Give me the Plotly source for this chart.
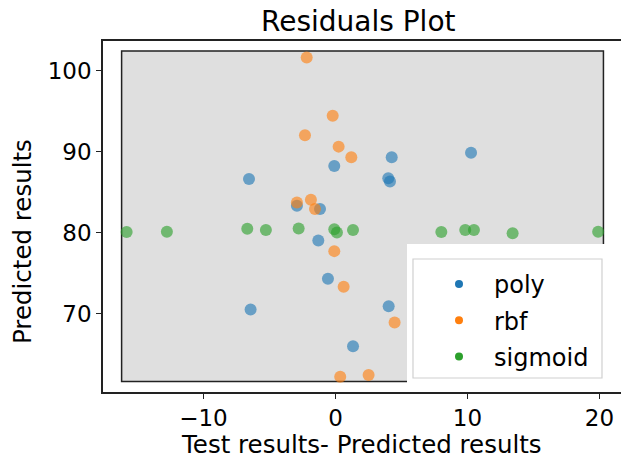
import plotly.graph_objects as go

# ---- data ----
poly_x = [-0.09, -6.55, -2.92, -1.17, -1.3, -0.57, -6.43, 4.03, 1.33, 4.26, 10.27, 4.0, 4.13]
poly_y = [88.2, 86.6, 83.3, 82.9, 79.0, 74.3, 70.5, 70.9, 65.95, 89.3, 89.85, 86.7, 86.3]

rbf_x = [-2.18, -0.21, -2.31, 0.24, 1.2, -2.92, -1.86, -1.55, -0.09, 0.62, 4.48, 0.36, 2.51]
rbf_y = [101.6, 94.4, 92.0, 90.6, 89.3, 83.7, 84.05, 82.9, 77.7, 73.3, 68.9, 62.2, 62.4]

sig_x = [-15.82, -12.77, -6.68, -5.27, -2.79, -0.09, 0.11, 1.33, 8.02, 9.83, 10.49, 13.42, 19.9]
sig_y = [80.06, 80.1, 80.47, 80.3, 80.5, 80.4, 80.0, 80.3, 80.06, 80.3, 80.3, 79.9, 80.1]

series_names = ["poly", "rbf", "sigmoid"]
series_colors = ["#1f77b4", "#ff7f0e", "#2ca02c"]

x_ticks = [-10, 0, 10, 20]
y_ticks = [70, 80, 90, 100]

# background rectangle (data coords)
rect_x = [-16.2, 20.3]
rect_y = [61.6, 102.4]

X_RANGE = [-17.61, 21.63]
Y_RANGE = [60.31, 103.64]

W, H = 621, 462
L, T, B = 103, 41, 392  # plot area pixels
R = 621


def px2paper(px, py):
    return (px - L) / (R - L), (B - py) / (B - T)


def px2data(px, py):
    fx, fy = px2paper(px, py)
    return (X_RANGE[0] + fx * (X_RANGE[1] - X_RANGE[0]),
            Y_RANGE[0] + fy * (Y_RANGE[1] - Y_RANGE[0]))


FONT = "DejaVu Sans, Liberation Sans, sans-serif"

fig = go.Figure()

series = [(poly_x, poly_y), (rbf_x, rbf_y), (sig_x, sig_y)]
for (xs, ys), name, col in zip(series, series_names, series_colors):
    fig.add_trace(go.Scatter(
        x=xs, y=ys, mode="markers", name=name, showlegend=False,
        marker=dict(color=col, size=12, opacity=0.62, line=dict(width=0)),
    ))
# legend-only entries (opaque symbols)
for i, (name, col) in enumerate(zip(series_names, series_colors)):
    fig.add_trace(go.Scatter(
        x=[None], y=[None], mode="markers", name=name, legendgroup=f"g{i}",
        marker=dict(color=col, size=8),
    ))

shapes = [
    dict(type="rect", xref="x", yref="y", x0=rect_x[0], x1=rect_x[1], y0=rect_y[0], y1=rect_y[1],
         fillcolor="#dfdfdf", line=dict(color="#222222", width=1.5), layer="below"),
]
# white legend backdrop (data coords so it sits above the grey rectangle)
wx0, wy1 = px2data(407, 244)
wx1, wy0 = px2data(621, 392)
shapes.append(dict(type="rect", xref="x", yref="y", x0=wx0, x1=wx1, y0=wy0, y1=wy1,
                   fillcolor="white", line=dict(width=0), layer="below"))
bx0, by0 = px2paper(413, 259)
bx1, by1 = px2paper(602, 378)
shapes.append(dict(type="rect", xref="paper", yref="paper", x0=bx0, x1=bx1, y0=by1, y1=by0,
                   fillcolor="rgba(0,0,0,0)", line=dict(color="#d0d0d0", width=1.2), layer="above"))

tx, ty = px2paper(358, 21)
xlx, xly = px2paper(361, 444)
ylx, yly = px2paper(22, 242)
annotations = [
    dict(text="Residuals Plot", x=tx, y=ty, xref="paper", yref="paper", showarrow=False,
         xanchor="center", yanchor="middle", font=dict(size=28, color="black", family=FONT)),
    dict(text="Test results- Predicted results", x=xlx, y=xly, xref="paper", yref="paper",
         showarrow=False, xanchor="center", yanchor="middle",
         font=dict(size=24.5, color="black", family=FONT)),
    dict(text="Predicted results", x=ylx, y=yly, xref="paper", yref="paper", showarrow=False,
         xanchor="center", yanchor="middle", textangle=-90,
         font=dict(size=24.5, color="black", family=FONT)),
]

lx, ly = px2paper(424, 262)

fig.update_layout(
    width=W, height=H,
    margin=dict(l=L, r=W - R, t=T, b=H - B),
    paper_bgcolor="white", plot_bgcolor="white",
    font=dict(family=FONT, size=20, color="black"),
    shapes=shapes, annotations=annotations,
    showlegend=True,
    legend=dict(x=lx, y=ly, xanchor="left", yanchor="top", bgcolor="rgba(0,0,0,0)",
                borderwidth=0, font=dict(size=24, family=FONT, color="black"),
                tracegroupgap=2, itemwidth=60),
    xaxis=dict(range=X_RANGE, tickvals=x_ticks, ticks="outside", ticklen=5,
               tickcolor="#222222", tickwidth=1.3, showgrid=False, zeroline=False,
               showline=True, linecolor="#222222", linewidth=1.5, mirror=True,
               tickfont=dict(size=23, family=FONT, color="black")),
    yaxis=dict(range=Y_RANGE, tickvals=y_ticks, ticks="outside", ticklen=5,
               tickcolor="#222222", tickwidth=1.3, showgrid=False, zeroline=False,
               showline=True, linecolor="#222222", linewidth=1.5, mirror=False,
               tickfont=dict(size=23, family=FONT, color="black")),
)

fig.write_html("out.html")
